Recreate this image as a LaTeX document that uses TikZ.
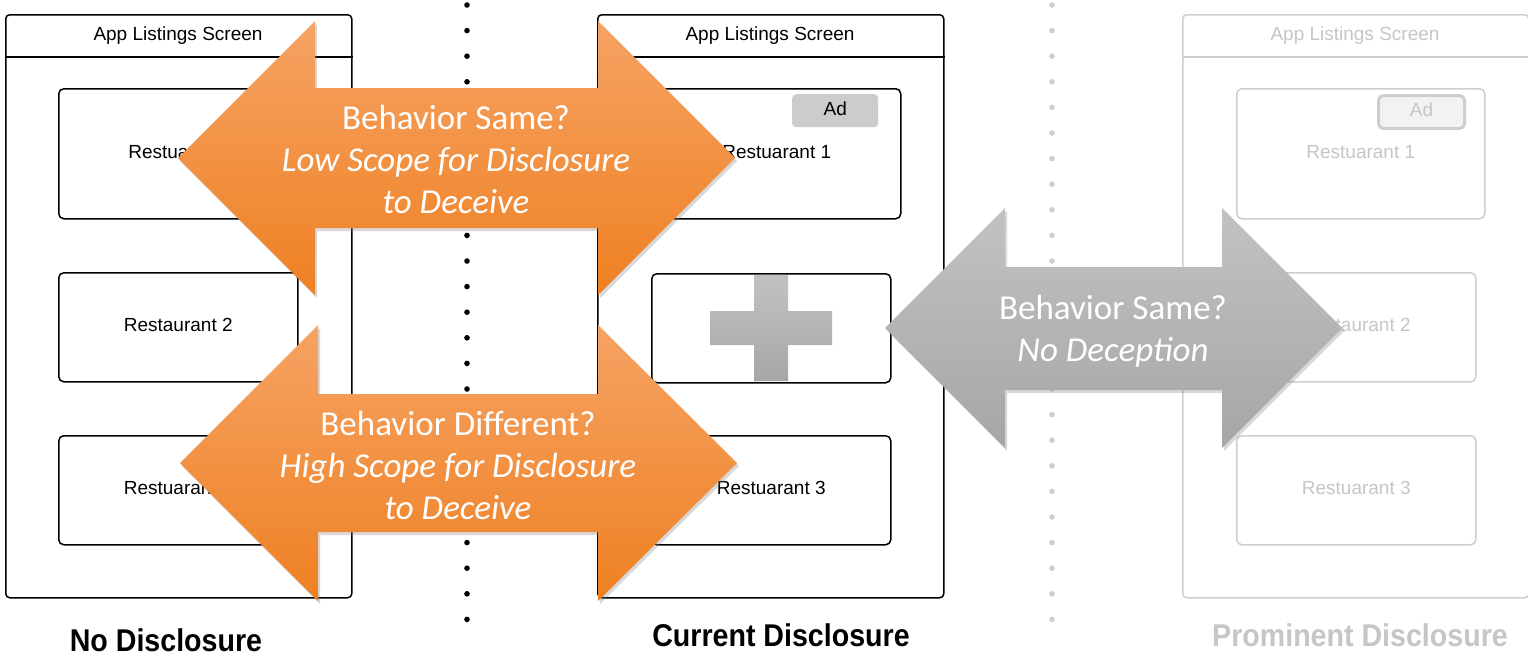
\documentclass[tikz,border=0pt]{standalone}
\usepackage{fontspec}
\setmainfont{Liberation Sans}
\newfontfamily\calloutfont{Carlito}
\usetikzlibrary{shadows}

\definecolor{faintline}{RGB}{206,206,206}
\definecolor{fainttext}{RGB}{198,198,198}
\definecolor{adgrey}{RGB}{204,204,204}
\definecolor{adpale}{RGB}{242,242,242}
\definecolor{orangetop}{RGB}{246,163,100}
\definecolor{orangebot}{RGB}{238,128,34}
\definecolor{greytop}{RGB}{194,194,194}
\definecolor{greybot}{RGB}{166,166,166}
\definecolor{plustop}{RGB}{194,194,194}
\definecolor{plusbot}{RGB}{166,166,166}

\tikzset{
  screen/.style={draw, line width=1.5pt, rounded corners=4pt, minimum width=346pt,
    minimum height=583pt, anchor=north west, inner sep=0pt},
  card/.style={draw, line width=1.5pt, rounded corners=5pt, minimum height=130pt,
    anchor=north west, inner sep=0pt, text depth=4pt, font=\fontsize{19}{22}\selectfont},
  wide card/.style={card, minimum width=248pt},
  narrow card/.style={card, minimum width=239pt, minimum height=109pt},
  header/.style={font=\fontsize{19}{22}\selectfont, inner sep=0pt},
  faint/.style={draw=faintline, text=fainttext},
  caption/.style={font=\bfseries\fontsize{28.6}{32}\selectfont, inner sep=0pt},
  callout text/.style={text=white, align=center, inner sep=0pt,
    font=\calloutfont\fontsize{35}{42}\selectfont},
  callout shadow/.style={drop shadow={opacity=0.3, shadow xshift=2pt, shadow yshift=-3pt}},
  orange arrow/.style={top color=orangetop, bottom color=orangebot, callout shadow},
  grey arrow/.style={top color=greytop, bottom color=greybot, callout shadow},
}

\begin{document}
\begin{tikzpicture}[x=1pt, y=-1pt]
\useasboundingbox[fill=white] (0,0) rectangle (1528,657);

% ---- separators between the three variants
\foreach \k in {0,...,24} {
  \fill (467,{5+25.6*\k}) circle (2.8pt);
  \fill[faintline] (1052,{5+25.6*\k}) circle (2.8pt);
}

% ---- no disclosure
\node[screen] (ls) at (5,14) {};
\draw[line width=1.5pt] (ls.west |- 0,57) -- (ls.east |- 0,57);
\node[header] (lh) at (178,36) {App Listings Screen};
\node[wide card] (l1) at (58,88) {Restuarant 1};
\node[narrow card] (l2) at (58,272) {Restaurant 2};
\node[narrow card] (l3) at (58,435) {Restuarant 3};
\node[caption] (lc) at (166,640) {\scalebox{1}[1.1]{No Disclosure}};

% ---- current disclosure
\node[screen] (cs) at (597,14) {};
\draw[line width=1.5pt] (cs.west |- 0,57) -- (cs.east |- 0,57);
\node[header] (ch) at (770,36) {App Listings Screen};
\node[wide card] (c1) at (652,88) {Restuarant 1};
\node[fill=adgrey, rounded corners=4pt, minimum width=86pt, minimum height=33pt,
  anchor=north west, font=\fontsize{19}{22}\selectfont, text depth=4pt, inner sep=0pt] (cad) at (792,94) {Ad};
\node[narrow card] (c2) at (651,273) {};
\node[narrow card] (c3) at (651,435) {Restuarant 3};
\shade[top color=plustop, bottom color=plusbot]
  (754,275) -- (788,275) -- (788,311) -- (832,311) -- (832,345) -- (788,345)
  -- (788,381) -- (754,381) -- (754,345) -- (710,345) -- (710,311) -- (754,311) -- cycle;
\node[caption] (cc) at (781,635) {\scalebox{1}[1.1]{Current Disclosure}};

% ---- prominent disclosure
\node[screen, faint] (ps) at (1182,14) {};
\draw[faintline, line width=1.5pt] (ps.west |- 0,57) -- (ps.east |- 0,57);
\node[header, text=fainttext] (ph) at (1355,36) {App Listings Screen};
\node[wide card, faint] (p1) at (1236,88) {Restuarant 1};
\node[draw=faintline, line width=3pt, fill=adpale, text=fainttext, rounded corners=5pt,
  minimum width=86pt, minimum height=33pt, anchor=north west, text depth=4pt,
  font=\fontsize{19}{22}\selectfont, inner sep=0pt] (pad) at (1377,94) {Ad};
\node[narrow card, faint] (p2) at (1236,272) {Restaurant 2};
\node[narrow card, faint] (p3) at (1236,435) {Restuarant 3};
\node[caption, text=fainttext] (pc) at (1360,635) {\scalebox{1}[1.1]{Prominent Disclosure}};

% ---- comparison arrows
\path[orange arrow] (178,158) -- (315,21) -- (315,88) -- (598,88) -- (598,21) -- (735,158)
  -- (598,295) -- (598,228) -- (315,228) -- (315,295) -- cycle;
\node[callout text] (same) at (456,159)
  {Behavior Same?\\\itshape Low Scope for Disclosure\\\itshape to Deceive};

\path[orange arrow] (180,463) -- (318,325) -- (318,394) -- (598,394) -- (598,325) -- (737,463)
  -- (598,601) -- (598,532) -- (318,532) -- (318,601) -- cycle;
\node[callout text] (diff) at (458,465)
  {Behavior Different?\\\itshape High Scope for Disclosure\\\itshape to Deceive};

\path[grey arrow] (885,328) -- (1005,208) -- (1005,267) -- (1222,267) -- (1222,208) -- (1342,328)
  -- (1222,448) -- (1222,390) -- (1005,390) -- (1005,448) -- cycle;
\node[callout text] (nodec) at (1113,331) {Behavior Same?\\\itshape No Deception};
\end{tikzpicture}
\end{document}
